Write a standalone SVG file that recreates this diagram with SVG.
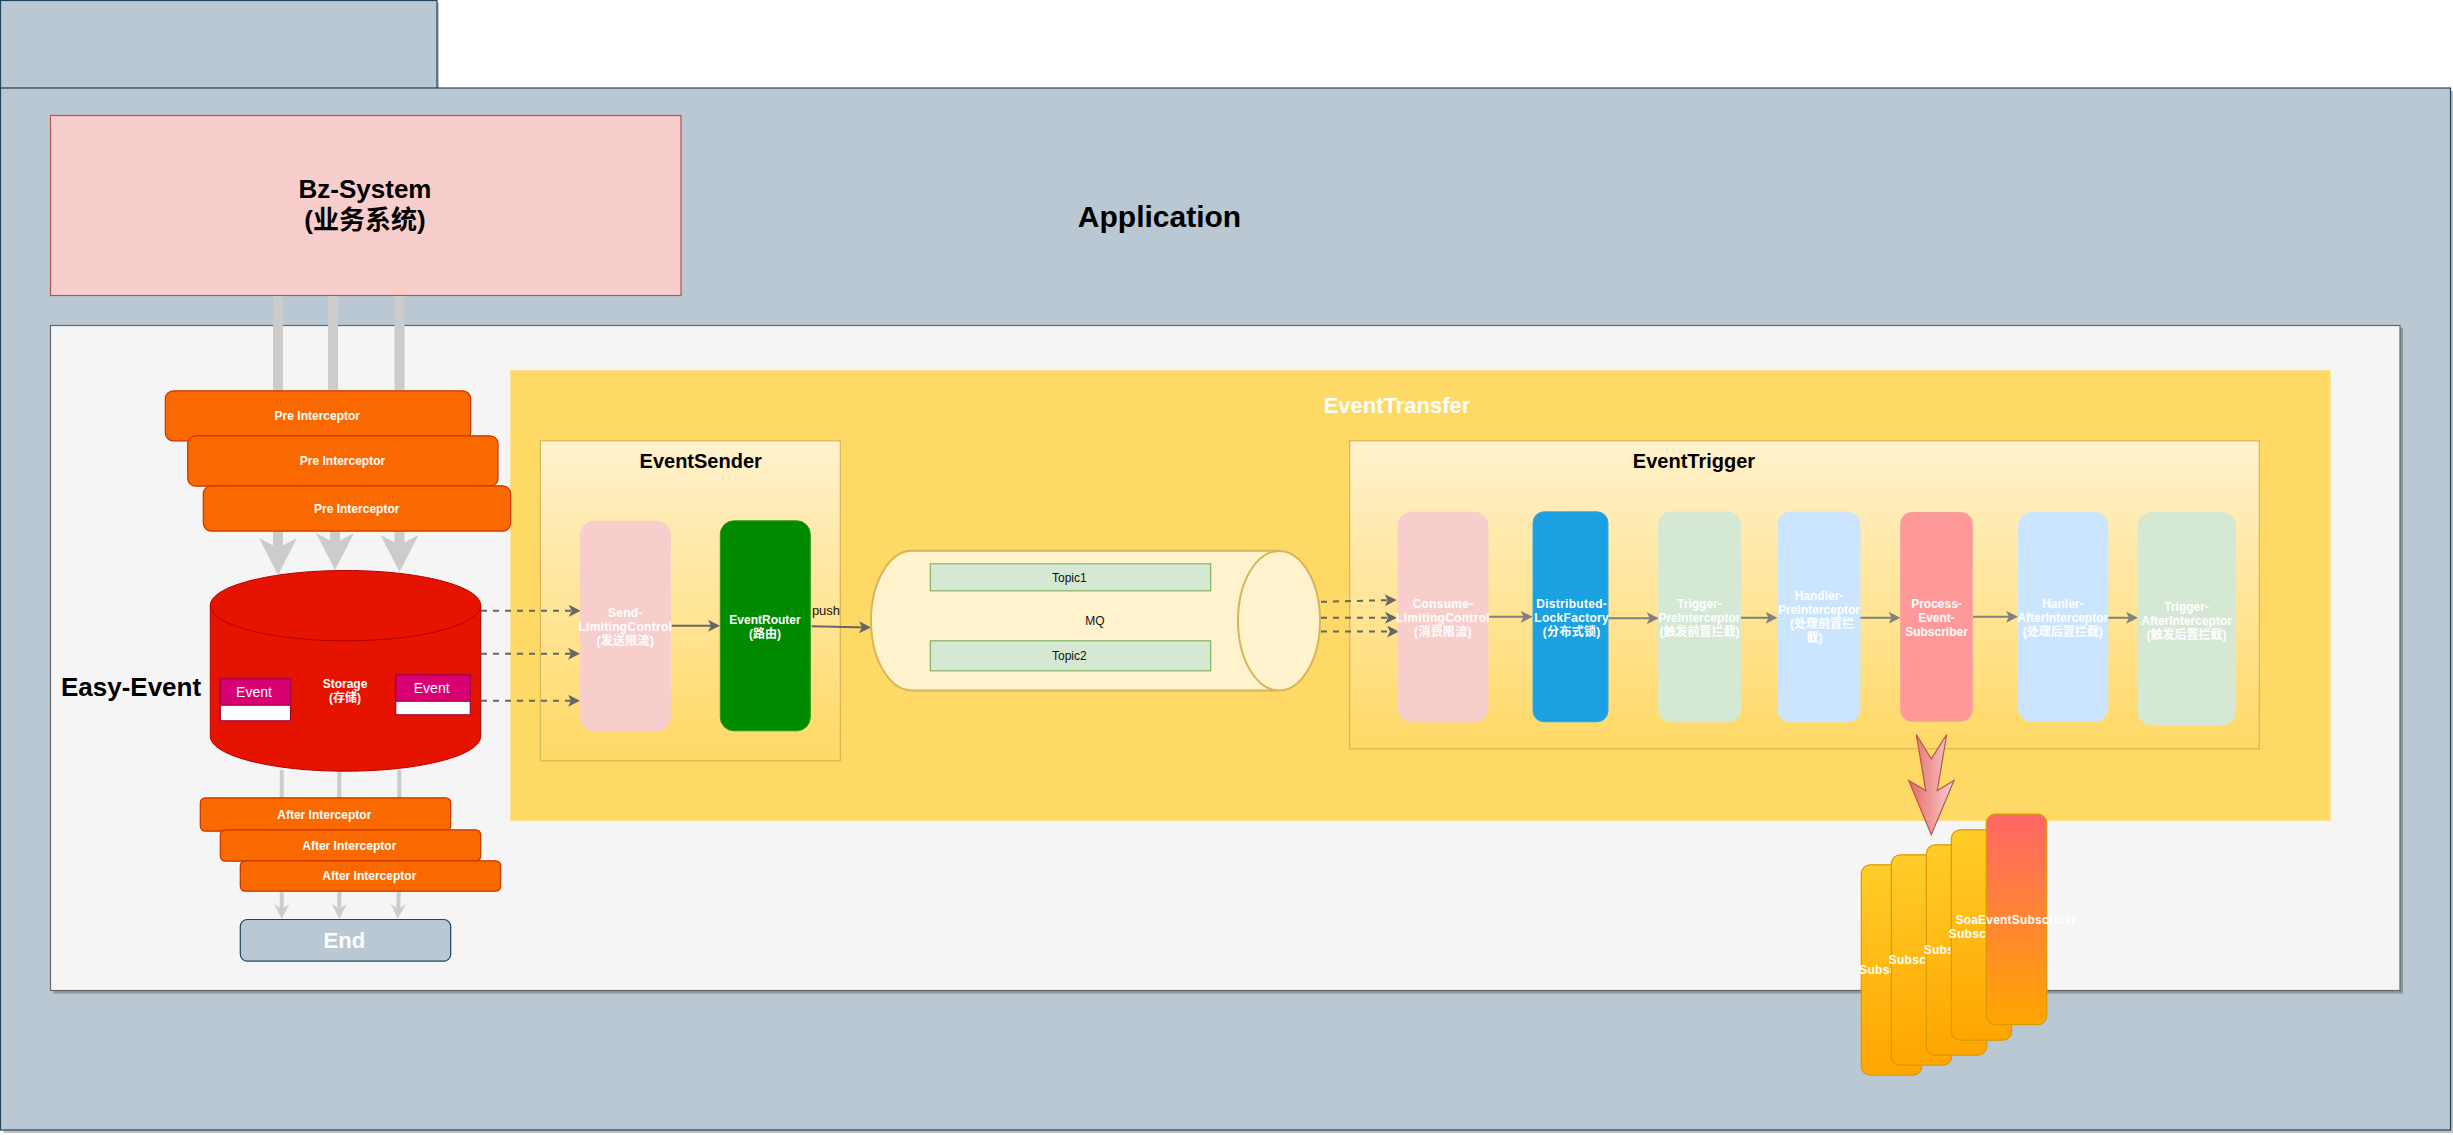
<svg xmlns="http://www.w3.org/2000/svg" width="2453" height="1135" viewBox="0 0 2453 1135">
<style>
text{font-family:"Liberation Sans","Noto Sans CJK SC",sans-serif;text-anchor:middle;font-size:12px}
.b{font-weight:bold}
.w{fill:#fff;font-weight:bold}
.lab{fill:#fff;font-weight:bold;letter-spacing:.3px}
.k{fill:#111}
.panel{fill:#bac8d3;stroke:#23445d;stroke-width:1.2}
.shadow{fill:#000;opacity:.25}
.ic{fill:#fa6800;stroke:#c73500;stroke-width:1.200}
.ev{fill:#d80073;stroke:#a50040;stroke-width:1.200}
.evb{fill:#fff;stroke:#a50040;stroke-width:1.200}
.sec{fill:url(#gY);stroke:#d6b656;stroke-width:1.2}
.tp{fill:#d5e8d4;stroke:#82b366;stroke-width:1.200}
.mq{fill:#fff2cc;stroke:#d6b656;stroke-width:2}
.card{fill:url(#gO);stroke:#d79b00;stroke-width:1.200}
.big{fill:none;stroke:#ccc;stroke-width:10}
.small{fill:none;stroke:#ccc;stroke-width:4}
.dash{fill:none;stroke:#666;stroke-width:2;stroke-dasharray:6 6;marker-end:url(#hD)}
.solid{fill:none;stroke:#666;stroke-width:2;marker-end:url(#hD)}
.grey{fill:none;stroke:#808080;stroke-width:2;marker-end:url(#hG)}
</style>
<defs>
<linearGradient id="gY" x1="0" y1="0" x2="0" y2="1"><stop offset="0" stop-color="#fff2cc"/><stop offset="1" stop-color="#ffd966"/></linearGradient>
<linearGradient id="gO" x1="0" y1="0" x2="0" y2="1"><stop offset="0" stop-color="#ffcd28"/><stop offset="1" stop-color="#ffa500"/></linearGradient>
<linearGradient id="gR" x1="0" y1="0" x2="0" y2="1"><stop offset="0" stop-color="#ff6666"/><stop offset="1" stop-color="#ffa500"/></linearGradient>
<linearGradient id="gP" x1="0" y1="0" x2="1" y2="0"><stop offset="0" stop-color="#e56a6a"/><stop offset="1" stop-color="#f8cecc"/></linearGradient>
<marker id="hD" markerUnits="userSpaceOnUse" markerWidth="13" markerHeight="12" refX="8" refY="6" orient="auto"><path d="M0 0L12 6L0 12L3 6Z" fill="#666"/></marker>
<marker id="hG" markerUnits="userSpaceOnUse" markerWidth="13" markerHeight="12" refX="8" refY="6" orient="auto"><path d="M0 0L12 6L0 12L3 6Z" fill="#808080"/></marker>
<marker id="hB" markerUnits="userSpaceOnUse" markerWidth="38" markerHeight="38" refX="20" refY="19" orient="auto"><path d="M0 0L37 19L0 38L10 19Z" fill="#ccc"/></marker>
<marker id="hS" markerUnits="userSpaceOnUse" markerWidth="16" markerHeight="16" refX="8" refY="8" orient="auto"><path d="M0 .5L15 8L0 15.500L5 8Z" fill="#ccc"/></marker>
</defs>

<g id="panel-tab"><rect class="shadow" x="3" y="3" width="436" height="88"/><rect class="panel" x=".5" y=".5" width="436.500" height="88"/></g>
<g id="panel-application"><rect class="shadow" x="3.500" y="91" width="2449.500" height="1042"/><rect class="panel" x=".5" y="88" width="2450" height="1042"/>
<text class="b" x="1159.500" y="226.500" style="font-size:30px">Application</text></g>
<g id="panel-easy-event"><rect class="shadow" x="53.500" y="328" width="2349.500" height="665.500"/><rect x="50.500" y="325.500" width="2349.500" height="665" fill="#f5f5f5" stroke="#666" stroke-width="1.200"/>
<text class="b" x="131" y="695.500" style="font-size:26px">Easy-Event</text></g>
<g id="bz-system"><rect x="50.500" y="115.500" width="630.500" height="180" fill="#f8cecc" stroke="#b85450" stroke-width="1.200"/>
<text class="b" x="365" y="198" style="font-size:26px">Bz-System</text><text class="b" x="365" y="229" style="font-size:26px">(业务系统)</text></g>
<g id="event-transfer"><rect x="510.700" y="370.500" width="1819.500" height="450" fill="#ffd966" stroke="#ffe08a"/>
<text class="w" x="1397" y="413" style="font-size:22px">EventTransfer</text></g>
<g id="event-sender"><rect class="sec" x="540.300" y="440.800" width="300" height="320"/><text class="b" x="700.700" y="467.500" style="font-size:20px">EventSender</text></g>
<g id="event-trigger"><rect class="sec" x="1349.700" y="440.800" width="909.600" height="308"/><text class="b" x="1694" y="467.500" style="font-size:20px">EventTrigger</text></g>

<g id="connectors">
<path class="big" d="M278 296V390M333 296V390M399.500 296V390"/>
<path class="big" d="M278 530V558" marker-end="url(#hB)"/>
<path class="big" d="M335 530V553" marker-end="url(#hB)"/>
<path class="big" d="M399.500 530V555" marker-end="url(#hB)"/>
<path class="small" d="M281.700 770V912" marker-end="url(#hS)"/>
<path class="small" d="M339.300 770V912" marker-end="url(#hS)"/>
<path class="small" d="M399.300 770V880L398 912" marker-end="url(#hS)"/>
<path class="dash" d="M481 610.800H576.700"/>
<path class="dash" d="M481 653.800H576"/>
<path class="dash" d="M481 700.800H576"/>
<path class="solid" d="M671.700 625.800H716"/>
<path class="solid" d="M811.700 626.200L867 627.400"/>
<path class="dash" d="M1321 601.800L1392.700 600"/>
<path class="dash" d="M1321 617.800H1393"/>
<path class="dash" d="M1321 631.500H1395"/>
<path class="grey" d="M1488 616.800H1528.700"/>
<path class="grey" d="M1608 618.200H1654.700"/>
<path class="grey" d="M1740.500 617.800H1773.500"/>
<path class="grey" d="M1860 617.800H1896.500"/>
<path class="grey" d="M1973 616.800H2014"/>
<path class="grey" d="M2108 617.800H2134"/>
<polygon points="1916.300,734.500 1931.300,758.800 1946.700,734.500 1937.300,790.500 1954,780.500 1931.300,834.800 1908.700,780.500 1925.700,790.500" fill="url(#gP)" stroke="#b85450" stroke-width="1.200"/>
</g>

<g id="pre-1"><rect class="ic" x="165.300" y="390.800" width="305.400" height="50" rx="8"/><text class="w" x="317.300" y="419.500">Pre Interceptor</text></g>
<g id="pre-2"><rect class="ic" x="187.700" y="435.800" width="310.300" height="50.400" rx="8"/><text class="w" x="342.500" y="464.500">Pre Interceptor</text></g>
<g id="pre-3"><rect class="ic" x="203.300" y="485.800" width="307.400" height="45.300" rx="8"/><text class="w" x="356.700" y="512.500">Pre Interceptor</text></g>

<g id="storage">
<path d="M210.300 605.500C210.300 586.200 270.800 570.500 345.500 570.500S480.700 586.200 480.700 605.500V736.200C480.700 755.500 420.200 771.200 345.500 771.200S210.300 755.500 210.300 736.200Z" fill="#e51400" stroke="#b20000"/>
<path d="M210.300 605.500C210.300 625 270.800 640.800 345.500 640.800S480.700 625 480.700 605.500" fill="none" stroke="#b20000"/>
<text class="w" x="345" y="687.500">Storage</text><text class="w" x="345" y="701.900">(存储)</text>
</g>
<g id="event-left"><rect class="evb" x="220.300" y="678.800" width="70.200" height="42"/><rect class="ev" x="220.300" y="678.800" width="70.200" height="26.400"/><text x="254" y="696.500" fill="#fff" style="font-size:14px">Event</text></g>
<g id="event-right"><rect class="evb" x="395.700" y="674.800" width="74.600" height="40"/><rect class="ev" x="395.700" y="674.800" width="74.600" height="26.400"/><text x="431.700" y="692.500" fill="#fff" style="font-size:14px">Event</text></g>

<g id="after-1"><rect class="ic" x="200.300" y="797.800" width="250.400" height="33.400" rx="5"/><text class="w" x="324.300" y="818.500">After Interceptor</text></g>
<g id="after-2"><rect class="ic" x="220.300" y="829.800" width="260.400" height="31.400" rx="5"/><text class="w" x="349.300" y="849.500">After Interceptor</text></g>
<g id="after-3"><rect class="ic" x="240.300" y="860.800" width="260.400" height="30.400" rx="5"/><text class="w" x="369.300" y="879.500">After Interceptor</text></g>
<g id="end"><rect class="panel" x="240.300" y="919.500" width="210.400" height="41.700" rx="7"/><text class="w" x="344.300" y="947.500" style="font-size:22px">End</text></g>

<g id="send-limiting"><rect x="580.700" y="521.200" width="89.600" height="209.600" rx="13.500" fill="#f8cecc" stroke="#f8cecc"/><text class="lab"><tspan x="625.300" y="616.500">Send-</tspan><tspan x="625.300" y="630.500">LimitingControl</tspan><tspan x="625.300" y="644.900">(发送限流)</tspan></text></g>
<g id="event-router"><rect x="720.300" y="520.800" width="90" height="210" rx="13.500" fill="#008a00" stroke="#2d9a1a"/><text class="w"><tspan x="765" y="623.500">EventRouter</tspan><tspan x="765" y="637.900">(路由)</tspan></text></g>
<text class="k" x="826" y="615" style="font-size:13px">push</text>

<g id="mq"><path class="mq" d="M1279 550.800H912C889.400 550.800 871 582.100 871 620.700S889.400 690.500 912 690.500H1279Z"/><ellipse class="mq" cx="1279" cy="620.700" rx="41" ry="69.800"/><text class="k" x="1095" y="625">MQ</text></g>
<g id="topic-1"><rect class="tp" x="930.300" y="563.800" width="280.400" height="27"/><text class="k" x="1069.300" y="581.500">Topic1</text></g>
<g id="topic-2"><rect class="tp" x="930.300" y="640.800" width="280.400" height="30"/><text class="k" x="1069.300" y="659.500">Topic2</text></g>

<g id="consume-limiting"><rect x="1398" y="512.200" width="90" height="209.600" rx="13.500" fill="#f8cecc" stroke="#f8cecc"/><text class="lab"><tspan x="1443" y="607.500">Consume-</tspan><tspan x="1443" y="621.800">LimitingControl</tspan><tspan x="1443" y="636.100">(消费限流)</tspan></text></g>
<g id="distributed-lock"><rect x="1533" y="511.800" width="75" height="210" rx="11" fill="#1ba1e2" stroke="#3aa7e0"/><text class="lab"><tspan x="1571.700" y="607.500">Distributed-</tspan><tspan x="1571.700" y="621.800">LockFactory</tspan><tspan x="1571.700" y="636.100">(分布式锁)</tspan></text></g>
<g id="trigger-pre"><rect x="1658.700" y="512.200" width="81.800" height="209.600" rx="12" fill="#d5e8d4" stroke="#d5e8d4"/><text class="w"><tspan x="1699.400" y="607.500">Trigger-</tspan><tspan x="1699.400" y="621.800">PreInterceptor</tspan><tspan x="1699.400" y="636.100">(触发前置拦截)</tspan></text></g>
<g id="handler-pre"><rect x="1778" y="512.200" width="82" height="209.600" rx="12" fill="#cce5ff" stroke="#cce5ff"/><text class="w"><tspan x="1819" y="599.500">Handler-</tspan><tspan x="1819" y="613.500">PreInterceptor</tspan><tspan x="1822" y="627.500">(处理前置拦</tspan><tspan x="1814.500" y="641.800">截)</tspan></text></g>
<g id="process-event"><rect x="1900.700" y="512.500" width="71.600" height="208.700" rx="11" fill="#ff9999" stroke="#f8a0a0"/><text class="w"><tspan x="1936.500" y="607.500">Process-</tspan><tspan x="1936.500" y="621.800">Event-</tspan><tspan x="1936.500" y="636.100">Subscriber</tspan></text></g>
<g id="handler-after"><rect x="2018.500" y="512.500" width="89.400" height="209" rx="13" fill="#cce5ff" stroke="#cce5ff"/><text class="w"><tspan x="2062.800" y="607.500">Hanler-</tspan><tspan x="2062.800" y="621.800">AfterInterceptor</tspan><tspan x="2062.800" y="636.100">(处理后置拦截)</tspan></text></g>
<g id="trigger-after"><rect x="2138" y="512.500" width="97.600" height="212.700" rx="14" fill="#d5e8d4" stroke="#d5e8d4"/><text class="w"><tspan x="2186.600" y="610.500">Trigger-</tspan><tspan x="2186.600" y="624.800">AfterInterceptor</tspan><tspan x="2186.600" y="639.100">(触发后置拦截)</tspan></text></g>

<g id="subscriber-1"><rect class="card" x="1861.300" y="864.800" width="60.400" height="210.400" rx="9"/><text class="lab" x="1892" y="973.500">Subscriber</text></g>
<g id="subscriber-2"><rect class="card" x="1891.300" y="854.800" width="60.400" height="210.400" rx="9"/><text class="lab" x="1921.500" y="963.500">Subscriber</text></g>
<g id="subscriber-3"><rect class="card" x="1926.300" y="844.800" width="60.400" height="210.400" rx="9"/><text class="lab" x="1956.500" y="953.500">Subscriber</text></g>
<g id="subscriber-4"><rect class="card" x="1951.300" y="829.800" width="60.400" height="210.400" rx="9"/><text class="lab" x="1981.500" y="938">Subscriber</text></g>
<g id="soa-subscriber"><rect x="1986.300" y="814.200" width="60.400" height="210.400" rx="9" fill="url(#gR)" stroke="#d79b00" stroke-width="1.200"/><text class="w" x="2016" y="923.500" style="letter-spacing:.2px">SoaEventSubscriber</text></g>
</svg>
